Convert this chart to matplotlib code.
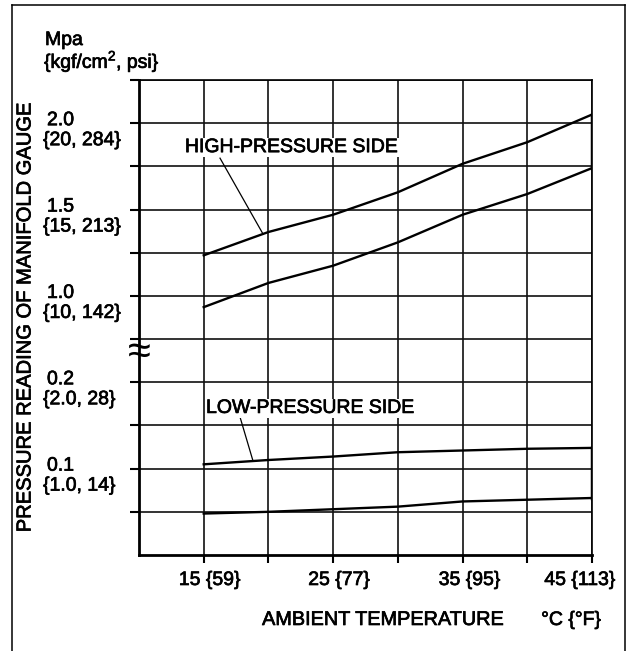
import matplotlib
matplotlib.use("Agg")
import matplotlib.pyplot as plt
from matplotlib.lines import Line2D
import matplotlib.patheffects as pe
import numpy as np

plt.rcParams['font.family'] = ['Liberation Sans', 'DejaVu Sans']
# slightly heavier text, like the scanned original
heavy = [pe.withStroke(linewidth=0.5, foreground="black")]

# ambient temperature (deg C) and gauge readings (MPa)
temps = [15, 20, 25, 30, 35, 40, 45]
high_max = [1.235, 1.37, 1.47, 1.60, 1.765, 1.89, 2.05]
high_min = [0.935, 1.075, 1.175, 1.31, 1.47, 1.59, 1.74]
low_max = [0.105, 0.11, 0.114, 0.119, 0.121, 0.123, 0.124]
low_min = [0.048, 0.050, 0.053, 0.056, 0.062, 0.064, 0.066]

# axis labels
x_ticks = [15, 25, 35, 45]
x_tick_text = ["15 {59}", "25 {77}", "35 {95}", "45 {113}"]
y_ticks = [2.0, 1.5, 1.0, 0.2, 0.1]
y_tick_text = ["2.0", "1.5", "1.0", "0.2", "0.1"]
y_tick_sub = ["{20, 284}", "{15, 213}", "{10, 142}", "{2.0, 28}", "{1.0, 14}"]
grid_mpa = [0.05, 0.1, 0.15, 0.2, 0.75, 1.0, 1.25, 1.5, 1.75, 2.0, 2.25]


def to_axis(p):
    # broken axis: 0-0.2 MPa in 0.05 steps, then 0.75-2.25 MPa in 0.25 steps
    p = np.asarray(p, dtype=float)
    return np.where(p >= 0.75, 6 + (p - 1.0) / 0.25, p / 0.05)


fig = plt.figure(figsize=(6.32, 6.51), dpi=100)
ax = fig.add_axes([139 / 632, 96 / 651, 453 / 632, 475 / 651])
ax.set_xlim(10, 45)
ax.set_ylim(0, 11)

# grid
for gy in to_axis(grid_mpa):
    ax.axhline(gy, color="#111111", lw=1.2, zorder=1)
for gx in range(15, 46, 5):
    ax.axvline(gx, color="#111111", lw=1.2, zorder=1)

for s in ["top", "right"]:
    ax.spines[s].set_linewidth(1.2)
for s in ["left", "bottom"]:
    ax.spines[s].set_linewidth(2.0)

ax.set_xticks(range(15, 46, 5))
ax.set_xticklabels([])
ax.set_yticks(to_axis(grid_mpa))
ax.set_yticklabels([])
ax.tick_params(axis="x", direction="out", length=6, width=1.5)
ax.tick_params(axis="y", direction="out", length=6.5, width=1.5)

# curves
lw = 1.7
ax.plot(temps, to_axis(high_max), color="black", lw=lw, zorder=3)
ax.plot(temps, to_axis(high_min), color="black", lw=lw, zorder=3)
ax.plot(temps, to_axis(low_max), color="black", lw=lw, zorder=3)
ax.plot(temps, to_axis(low_min), color="black", lw=lw, zorder=3)
ax.plot([temps[-1], temps[-1]], to_axis([high_min[-1], high_max[-1]]), color="black", lw=2.5, zorder=3)
ax.plot([temps[-1], temps[-1]], to_axis([low_min[-1], low_max[-1]]), color="black", lw=2.5, zorder=3)

# callouts
ax.text(13.55, 9.33, "HIGH-PRESSURE SIDE", fontsize=14, ha="left", va="baseline", zorder=4,
        bbox=dict(facecolor="white", edgecolor="none", pad=1), path_effects=heavy)
hx = 19.58
ax.plot([16.26, hx], [9.19, np.interp(hx, temps, to_axis(high_max))], color="black", lw=0.9, zorder=3)

ax.text(15.18, 3.29, "LOW-PRESSURE SIDE", fontsize=14, ha="left", va="baseline", zorder=4,
        bbox=dict(facecolor="white", edgecolor="none", pad=1), path_effects=heavy)
lx = 18.81
ax.plot([17.8, lx], [3.2, np.interp(lx, temps, to_axis(low_max))], color="black", lw=0.9, zorder=3)

# y tick labels, two lines each
for v, t1, t2 in zip(y_ticks, y_tick_text, y_tick_sub):
    yy = float(to_axis(v))
    ax.annotate(t1, xy=(0, yy), xycoords=("axes fraction", "data"), xytext=(-92, -2),
                textcoords="offset pixels", ha="left", va="baseline", fontsize=14, path_effects=heavy)
    ax.annotate(t2, xy=(0, yy), xycoords=("axes fraction", "data"), xytext=(-96, -22),
                textcoords="offset pixels", ha="left", va="baseline", fontsize=14, path_effects=heavy)

# x tick labels
x_shift = [6, 6, 7, -12]
for xv, t, dx in zip(x_ticks, x_tick_text, x_shift):
    ax.annotate(t, xy=(xv, 0), xycoords=("data", "axes fraction"), xytext=(dx, -30),
                textcoords="offset pixels", ha="center", va="baseline", fontsize=14, path_effects=heavy)

# axis break mark
ax.annotate("≈", xy=(0, 4.68), xycoords=("axes fraction", "data"), ha="center", va="center",
            fontsize=30, annotation_clip=False)

# units and titles
fig.text(45 / 632, 1 - 45 / 651, "Mpa", fontsize=14, ha="left", va="baseline", path_effects=heavy)
fig.text(44 / 632, 1 - 68 / 651, "{kgf/cm$^{\\mathregular{2}}$, psi}", fontsize=14, ha="left",
         va="baseline", path_effects=heavy)
fig.text(25 / 632, 1 - 318 / 651, "PRESSURE READING OF MANIFOLD GAUGE", fontsize=14.5,
         rotation=90, ha="center", va="center", path_effects=heavy)
fig.text(383 / 632, 1 - 625 / 651, "AMBIENT TEMPERATURE", fontsize=14.3, ha="center", va="baseline",
         path_effects=heavy)
fig.text(571 / 632, 1 - 625 / 651, "°C {°F}", fontsize=14, ha="center", va="baseline", path_effects=heavy)

# outer frame
fl, fr, ft = 12 / 632, 625 / 632, 1 - 5 / 651
fig.add_artist(Line2D([fl, fl], [0, ft], color="black", lw=1.1))
fig.add_artist(Line2D([fl, fr], [ft, ft], color="black", lw=1.1))
fig.add_artist(Line2D([fr, fr], [ft, 0], color="black", lw=1.1))

fig.savefig("out.png", dpi=100)
